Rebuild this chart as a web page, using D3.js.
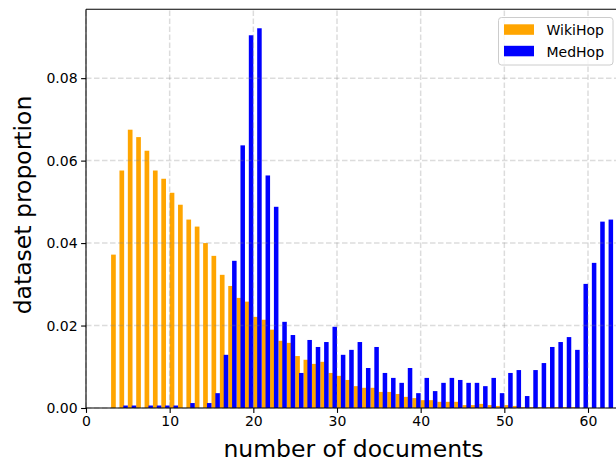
<!DOCTYPE html>
<html>
<head>
<meta charset="utf-8">
<script src="https://cdn.jsdelivr.net/npm/d3@7"></script>
<style>
    body { margin: 0; background: #fff; }
    #chart { width: 616px; height: 462px; }
    text { font-family: "DejaVu Sans", sans-serif; fill: #000; }
</style>
</head>
<body>
<div id="chart"></div>
<script>
// number of documents per sample (x categories)
var docCounts = d3.range(3, 63);

// WikiHop proportions, n = 3 .. 62
var wikiHop = [
    0.0372, 0.0576, 0.0675, 0.0657, 0.0624, 0.0576, 0.0556, 0.0522, 0.0493, 0.0457,
    0.0440, 0.0400, 0.0369, 0.0323, 0.0296, 0.0267, 0.0258, 0.0221, 0.0214, 0.0190,
    0.0163, 0.0158, 0.0126, 0.0117, 0.0107, 0.0112, 0.0085, 0.0078, 0.0068, 0.0053,
    0.0049, 0.0049, 0.0039, 0.0039, 0.0034, 0.0027, 0.0024, 0.0019, 0.0019, 0.0015,
    0.0015, 0.0015, 0.0007, 0.0007, 0.0010, 0.0007, 0.0005, 0.0007, 0.0005, 0.0002,
    0.0002, 0.0002, 0.0002, 0.0002, 0.0002, 0.0002, 0, 0, 0, 0
];

// MedHop proportions, n = 3 .. 62
var medHop = [
    0, 0.0006, 0.0006, 0, 0.0006, 0.0006, 0.0006, 0.0006, 0, 0.0012,
    0, 0.0012, 0.0036, 0.0129, 0.0357, 0.0637, 0.0904, 0.0921, 0.0564, 0.0488,
    0.0209, 0.0177, 0.0085, 0.0165, 0.0148, 0.0160, 0.0197, 0.0129, 0.0141, 0.0160,
    0.0097, 0.0148, 0.0085, 0.0073, 0.0061, 0.0097, 0.0036, 0.0073, 0.0041, 0.0061,
    0.0073, 0.0068, 0.0061, 0.0061, 0.0053, 0.0073, 0.0036, 0.0085, 0.0092, 0.0029,
    0.0092, 0.0109, 0.0148, 0.0160, 0.0172, 0.0141, 0.0301, 0.0352, 0.0452, 0.0457
];

var xTicks = [0, 10, 20, 30, 40, 50, 60];
var yTicks = [0, 0.02, 0.04, 0.06, 0.08];
var seriesNames = ["WikiHop", "MedHop"];
var seriesColors = ["#ffa500", "#0000ff"];

drawChart();

function drawChart() {
    var width = 616, height = 462;
    var svg = d3.select("#chart").append("svg")
        .attr("width", width)
        .attr("height", height);

    var x = d3.scaleLinear().domain([0, 60]).range([86, 588]);
    var y = d3.scaleLinear().domain([0, 0.0967]).range([408, 9.3]);

    var plotRight = 620;

    // bars: orange on the left half of each bin, blue on the right half
    var rows = docCounts.map(function (d, i) {
        return { n: d, wiki: wikiHop[i], med: medHop[i] };
    });

    svg.append("g").selectAll("rect")
        .data(rows.filter(function (d) { return d.wiki > 0; }))
        .enter().append("rect")
        .attr("x", function (d) { return x(d.n); })
        .attr("width", function (d) { return x(d.n + 0.56) - x(d.n); })
        .attr("y", function (d) { return y(d.wiki); })
        .attr("height", function (d) { return y(0) - y(d.wiki); })
        .attr("fill", seriesColors[0]);

    svg.append("g").selectAll("rect")
        .data(rows.filter(function (d) { return d.med > 0; }))
        .enter().append("rect")
        .attr("x", function (d) { return x(d.n + 0.46); })
        .attr("width", function (d) { return x(d.n + 1) - x(d.n + 0.46); })
        .attr("y", function (d) { return y(d.med); })
        .attr("height", function (d) { return y(0) - y(d.med); })
        .attr("fill", seriesColors[1]);

    // dashed grid on top of the bars
    var grid = svg.append("g")
        .attr("stroke", "#808080")
        .attr("stroke-opacity", 0.28)
        .attr("stroke-width", 1.5)
        .attr("stroke-dasharray", "5.5,2.5");

    grid.selectAll(".vg").data(xTicks).enter().append("line")
        .attr("x1", function (d) { return x(d); })
        .attr("x2", function (d) { return x(d); })
        .attr("y1", y.range()[0])
        .attr("y2", y.range()[1]);

    grid.selectAll(".hg").data(yTicks).enter().append("line")
        .attr("x1", x(0))
        .attr("x2", plotRight)
        .attr("y1", function (d) { return y(d); })
        .attr("y2", function (d) { return y(d); });

    // axes
    var xAxis = svg.append("g")
        .attr("transform", "translate(0," + y(0) + ")")
        .call(d3.axisBottom(x).tickValues(xTicks).tickFormat(d3.format("d"))
            .tickSizeInner(4.9).tickSizeOuter(0).tickPadding(3.5));

    var yAxis = svg.append("g")
        .attr("transform", "translate(" + x(0) + ",0)")
        .call(d3.axisLeft(y).tickValues(yTicks).tickFormat(d3.format(".2f"))
            .tickSizeInner(4.9).tickSizeOuter(0).tickPadding(3.5));

    [xAxis, yAxis].forEach(function (a) {
        a.select(".domain").remove();
        a.selectAll("line").attr("stroke", "#000").attr("stroke-width", 1.1);
        a.selectAll("text")
            .style("font-family", "DejaVu Sans, sans-serif")
            .style("font-size", "14px")
            .attr("fill", "#000");
    });

    // spines
    svg.append("line")
        .attr("x1", x(0)).attr("x2", x(0))
        .attr("y1", y.range()[1]).attr("y2", y(0))
        .attr("stroke", "#000").attr("stroke-width", 1.1);
    svg.append("line")
        .attr("x1", x(0)).attr("x2", plotRight)
        .attr("y1", y(0)).attr("y2", y(0))
        .attr("stroke", "#000").attr("stroke-width", 1.1);
    svg.append("line")
        .attr("x1", x(0)).attr("x2", plotRight)
        .attr("y1", y.range()[1]).attr("y2", y.range()[1])
        .attr("stroke", "#000").attr("stroke-width", 1.1);

    // axis labels
    svg.append("text")
        .attr("x", 353.5)
        .attr("y", 457)
        .attr("text-anchor", "middle")
        .style("font-size", "23.5px")
        .text("number of documents");

    svg.append("text")
        .attr("transform", "translate(31,205) rotate(-90)")
        .attr("text-anchor", "middle")
        .style("font-size", "23.5px")
        .text("dataset proportion");

    // legend
    var legend = svg.append("g");
    legend.append("rect")
        .attr("x", 498.5).attr("y", 17.5)
        .attr("width", 114.5).attr("height", 47.5)
        .attr("rx", 3)
        .attr("fill", "#fff").attr("fill-opacity", 0.8)
        .attr("stroke", "#cccccc").attr("stroke-width", 1);

    var items = legend.selectAll(".item")
        .data(seriesNames)
        .enter().append("g")
        .attr("transform", function (d, i) { return "translate(0," + (i * 21.5) + ")"; });

    items.append("rect")
        .attr("x", 504).attr("y", 24.3)
        .attr("width", 30).attr("height", 10.5)
        .attr("fill", function (d, i) { return seriesColors[i]; });

    items.append("text")
        .attr("x", 546.5).attr("y", 35)
        .style("font-size", "14px")
        .text(function (d) { return d; });
}
</script>
</body>
</html>
